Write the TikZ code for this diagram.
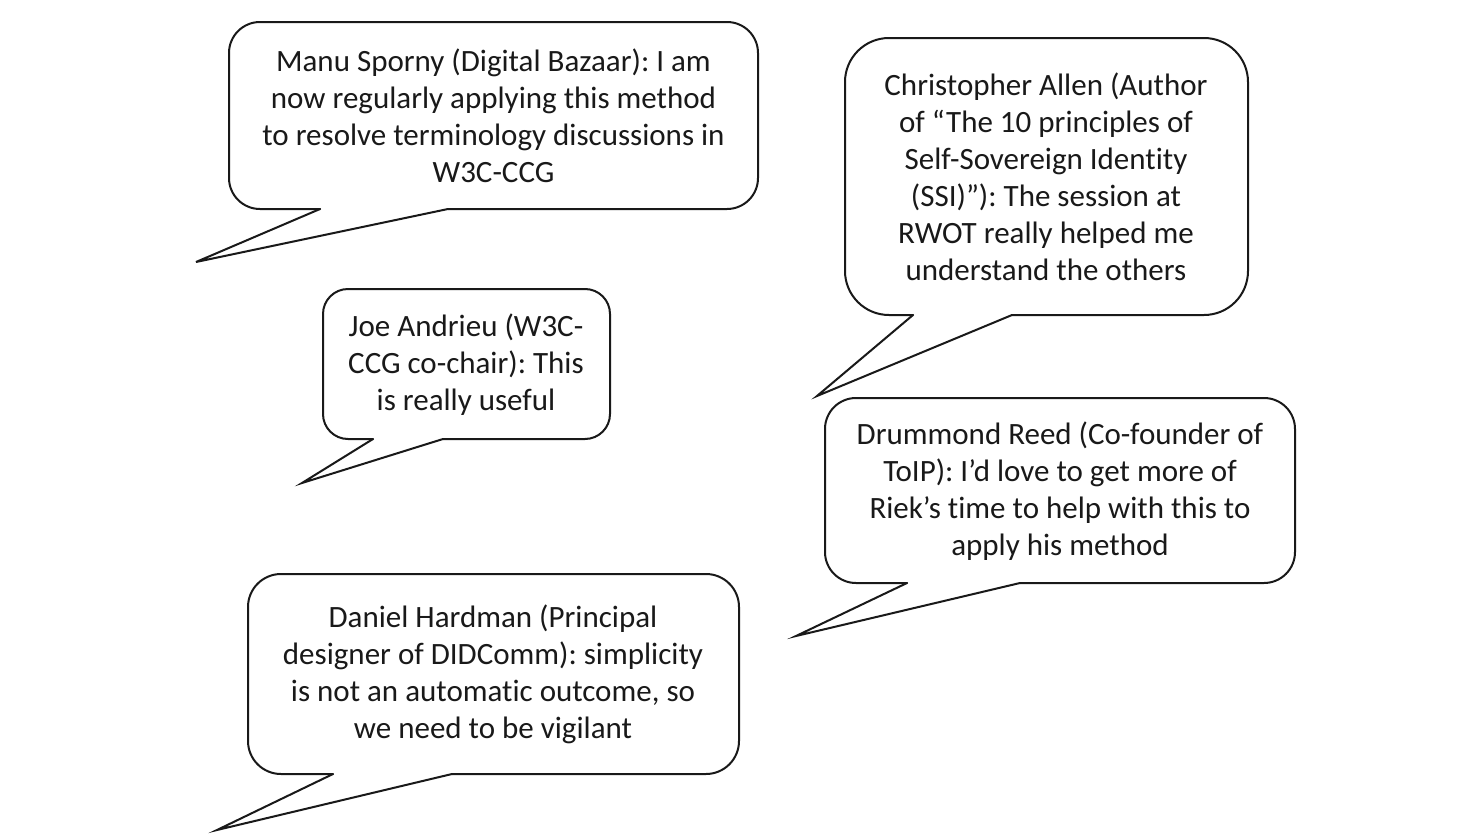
\documentclass[tikz,border=0pt]{standalone}
\usepackage{fontspec}
\setmainfont[Ligatures=NoCommon]{Carlito}
\frenchspacing
\tikzset{
  bubbleline/.style={draw=black!90, line width=2pt, line cap=round, line join=round},
  bubbletext/.style={align=center, inner sep=0pt, font=\fontsize{31}{37}\selectfont, text=black!90}
}
% #1 L, #2 T, #3 R, #4 B, #5 radius, #6 base1 x, #7 base2 x, #8 tip x, #9 tip y
\newcommand\speechbubble[9]{%
  \draw[bubbleline, rounded corners=#5pt] (#6,#4) -- (#1,#4) -- (#1,#2) -- (#3,#2) -- (#3,#4) -- (#7,#4);
  \draw[bubbleline, line join=miter] (#7,#4) -- (#8,#9) -- (#6,#4);
}
\begin{document}
\begin{tikzpicture}[x=1pt,y=-1pt]
\useasboundingbox (0,0) rectangle (1484,835);
\fill[white] (0,0) rectangle (1484,835);

\speechbubble{229}{22}{758}{209}{31}{320}{448}{196}{262}
\node[bubbletext] (manu) at (493.5,116) {Manu Sporny (Digital Bazaar): I am\\now regularly applying this method\\to resolve terminology discussions in\\W3C-CCG};

\speechbubble{845}{38}{1248}{315}{44}{913}{1012}{817}{396}
\node[bubbletext] (allen) at (1046,177) {Christopher Allen (Author\\of “The 10 principles of\\Self-Sovereign Identity\\(SSI)”): The session at\\RWOT really helped me\\understand the others};

\speechbubble{323}{289}{610}{439}{25}{373}{443}{302}{483}
\node[bubbletext] (joe) at (466,365) {Joe Andrieu (W3C-\\CCG co-chair): This\\is really useful};

\speechbubble{825}{398}{1295}{583}{31}{907}{1020}{796}{636}
\node[bubbletext] (reed) at (1060,491) {Drummond Reed (Co-founder of\\ToIP): I’d love to get more of\\Riek’s time to help with this to\\apply his method};

\speechbubble{248}{574}{739}{774}{33}{333}{452}{217}{830}
\node[bubbletext] (hardman) at (493,674.5) {Daniel Hardman (Principal\\designer of DIDComm): simplicity\\is not an automatic outcome, so\\we need to be vigilant};
\end{tikzpicture}
\end{document}
